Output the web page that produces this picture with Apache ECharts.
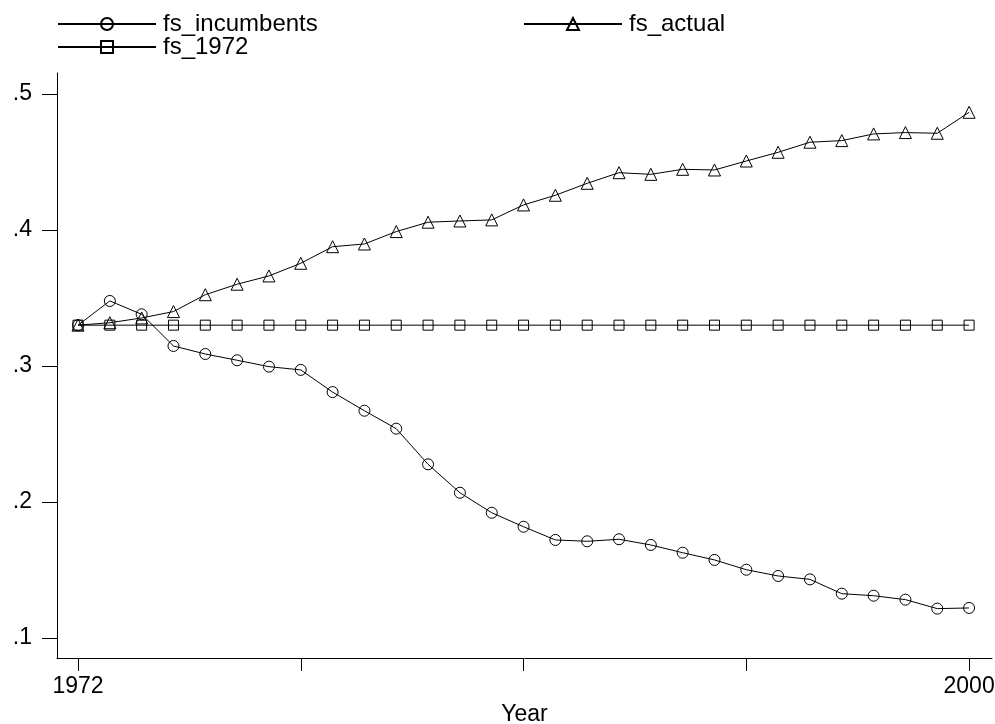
<!DOCTYPE html>
<html>
<head>
<meta charset="utf-8">
<script src="https://cdn.jsdelivr.net/npm/echarts@6/dist/echarts.min.js"></script>
<style>html,body{margin:0;padding:0;background:#fff}#c{width:995px;height:724px}</style>
</head>
<body>
<div id="c"></div>
<script>
const years = [1972,1973,1974,1975,1976,1977,1978,1979,1980,1981,1982,1983,1984,1985,1986,1987,1988,1989,1990,1991,1992,1993,1994,1995,1996,1997,1998,1999,2000];
const fsIncumbents = [0.330,0.3478,0.3380,0.3147,0.3088,0.3042,0.2995,0.2971,0.2808,0.2671,0.2539,0.2277,0.2068,0.1921,0.1818,0.1721,0.1711,0.1726,0.1684,0.1627,0.1574,0.1502,0.1456,0.1431,0.1326,0.1311,0.1282,0.1216,0.1221];
const fsActual = [0.330,0.3318,0.3353,0.3400,0.3524,0.3601,0.3662,0.3755,0.3877,0.3897,0.3988,0.4057,0.4066,0.4074,0.4184,0.4255,0.4343,0.4421,0.4409,0.4446,0.4441,0.4507,0.4571,0.4645,0.4657,0.4706,0.4716,0.4711,0.4865];
const fs1972 = [0.330,0.330,0.330,0.330,0.330,0.330,0.330,0.330,0.330,0.330,0.330,0.330,0.330,0.330,0.330,0.330,0.330,0.330,0.330,0.330,0.330,0.330,0.330,0.330,0.330,0.330,0.330,0.330,0.330];
const xTicks = [1972,1979,1986,1993,2000];
const xLabels = [1972,2000];
const yTicks = [0.1,0.2,0.3,0.4,0.5];

const FONT = '"Liberation Sans", Arial, sans-serif';
const X_MIN = 1971.34, X_MAX = 2000.72, Y_MIN = 0.0853, Y_MAX = 0.5154;
const chart = echarts.init(document.getElementById('c'), null, {renderer:'canvas'});

function mk(name, vals, symbol, size){
  return {
    name, type:'line', symbol, symbolSize:size, showSymbol:true,
    data: years.map((y,i)=>[y, vals[i]]),
    lineStyle:{color:'#000', width:1},
    itemStyle:{color:'rgba(0,0,0,0)', borderColor:'#000', borderWidth:1},
    emphasis:{disabled:true}, animation:false
  };
}
const legendCommon = {
  itemWidth:98, itemHeight:15, itemGap:0,
  textStyle:{fontFamily:FONT, fontSize:24, color:'#000', padding:[0,0,0,2]},
  selectedMode:false, padding:0
};

chart.setOption({
  animation:false,
  backgroundColor:'#fff',
  legend:[
    Object.assign({left:57, top:12, data:['fs_incumbents']}, legendCommon),
    Object.assign({left:523, top:12, data:['fs_actual']}, legendCommon),
    Object.assign({left:57, top:35, data:['fs_1972']}, legendCommon)
  ],
  grid:{left:57, right:3, top:73, bottom:66, containLabel:false, outerBoundsMode:'none'},
  xAxis:{
    type:'value', min:X_MIN, max:X_MAX,
    name:'Year', nameLocation:'middle', nameGap:35,
    nameTextStyle:{fontFamily:FONT, fontSize:23, color:'#000'},
    axisLine:{show:true, lineStyle:{color:'#000', width:1}},
    axisTick:{show:true, length:13, customValues:xTicks, lineStyle:{color:'#000', width:1}},
    axisLabel:{customValues:xLabels, margin:17, fontFamily:FONT, fontSize:23, color:'#000', formatter:v=>String(v)},
    splitLine:{show:false}
  },
  yAxis:{
    type:'value', min:Y_MIN, max:Y_MAX,
    axisLine:{show:true, lineStyle:{color:'#000', width:1}},
    axisTick:{show:true, length:15, customValues:yTicks, lineStyle:{color:'#000', width:1}},
    axisLabel:{show:true, customValues:yTicks, margin:25, fontFamily:FONT, fontSize:23, color:'#000',
      formatter:v=>String(+(+v).toFixed(1)).replace(/^0/,'')},
    splitLine:{show:false}
  },
  series:[
    mk('fs_incumbents', fsIncumbents, 'circle', 11),
    mk('fs_actual', fsActual, 'triangle', 12),
    mk('fs_1972', fs1972, 'rect', 10)
  ]
});

// y-axis tick marks placed through the library's own scale
const axisX = chart.convertToPixel({xAxisIndex:0}, X_MIN);
chart.setOption({
  graphic: yTicks.map(v => {
    const py = Math.round(chart.convertToPixel({yAxisIndex:0}, v)) + 0.5;
    return {type:'line', silent:true, z:100,
      shape:{x1:axisX - 15, y1:py, x2:axisX, y2:py},
      style:{stroke:'#000', lineWidth:1}};
  })
});
</script>
</body>
</html>
